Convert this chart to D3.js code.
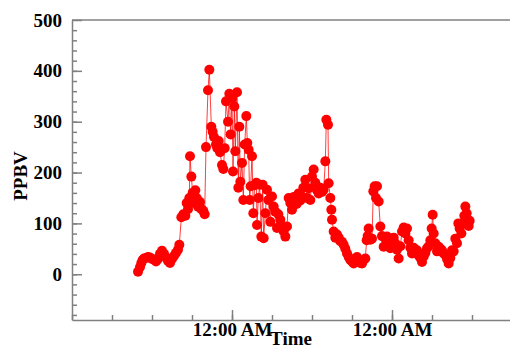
<!DOCTYPE html>
<html>
<head>
<meta charset="utf-8">
<script src="https://cdn.jsdelivr.net/npm/d3@7/dist/d3.min.js"></script>
<style>
    body { margin: 0; background: #fff; }
    text { font-family: "Liberation Serif", "Times New Roman", serif; font-weight: bold; font-size: 19px; fill: #000; }
    .axis path, .axis line { stroke: #808080; stroke-width: 1.5; }
</style>
</head>
<body>
<svg id="chart" width="510" height="350"></svg>
<script>
// hours relative to the first midnight on the x axis
const hours = [
    -14.1, -13.8, -13.6, -13.4, -13.2, -12.9, -12.6, -12.3, -12.0, -11.7, -11.4, -11.1, -10.8, -10.5, -10.2, -9.9,
    -9.6, -9.3, -9.0, -8.7, -8.4, -8.1, -7.9, -7.6, -7.3, -7.0, -6.8, -6.6, -6.4, -6.3, -6.1, -5.9,
    -5.7, -5.5, -5.3, -5.1, -4.8, -4.6, -4.3, -4.1, -3.9, -3.6, -3.4, -3.1, -2.9, -2.7, -2.4, -2.2,
    -2.0, -1.8, -1.5, -1.3, -1.1, -0.9, -0.6, -0.4, -0.2, 0.0, 0.15, 0.35, 0.5, 0.75, 0.95, 1.1,
    1.25, 1.5, 1.7, 1.9, 2.15, 2.3, 2.5, 2.65, 2.8, 3.0, 3.2, 3.4, 3.65, 3.75, 3.95, 4.15,
    4.4, 4.6, 4.75, 5.0, 5.25, 5.45, 5.75, 6.0, 6.25, 6.5, 6.75, 6.95, 7.25, 7.55, 7.75, 8.0,
    8.25, 8.5, 8.75, 9.0, 9.25, 9.5, 9.7, 10.0, 10.25, 10.5, 10.7, 11.0, 11.25, 11.5, 11.75, 12.0,
    12.25, 12.5, 12.75, 13.0, 13.25, 13.5, 13.75, 14.0, 14.15, 14.4, 14.5, 14.75, 14.9, 15.0, 15.25, 15.5,
    15.75, 16.0, 16.25, 16.5, 16.75, 17.0, 17.25, 17.5, 17.75, 18.0, 18.25, 18.5, 18.75, 19.0, 19.25, 19.5,
    19.75, 20.0, 20.2, 20.35, 20.5, 20.75, 21.0, 21.2, 21.4, 21.6, 21.75, 22.0, 22.25, 22.5, 22.75, 23.0,
    23.25, 23.5, 23.75, 24.0, 24.25, 24.5, 24.75, 25.0, 25.25, 25.5, 25.75, 26.0, 26.25, 26.5, 26.75, 27.0,
    27.25, 27.5, 27.75, 28.0, 28.25, 28.5, 28.75, 29.0, 29.25, 29.5, 29.75, 29.95, 30.1, 30.25, 30.5, 30.75,
    31.0, 31.25, 31.5, 31.75, 32.0, 32.25, 32.5, 32.75, 33.0, 33.25, 33.5, 33.75, 33.95, 34.15, 34.4, 34.6,
    34.85, 35.0, 35.2, 35.35, 35.5, 35.65
];
const ppbv = [
    5, 14, 22, 28, 31, 32, 34, 33, 30, 29, 25, 30, 40, 46, 40, 33,
    26, 22, 30, 36, 42, 48, 58, 112, 118, 115, 140, 128, 150, 232, 192, 160,
    140, 165, 150, 133, 142, 128, 125, 118, 250, 362, 402, 290, 280, 270, 255, 248,
    262, 240, 215, 207, 248, 340, 300, 355, 275, 345, 202, 330, 242, 358, 170, 290,
    182, 219, 146, 255, 311, 258, 245, 146, 173, 232, 120, 175, 180, 97, 150, 176,
    74, 176, 71, 120, 166, 146, 103, 153, 133, 123, 91, 118, 107, 95, 84, 74,
    94, 150, 140, 127, 152, 146, 138, 159, 145, 153, 170, 186, 150, 169, 146, 192,
    206, 180, 165, 159, 170, 162, 166, 222, 304, 294, 179, 150, 127, 107, 84, 72,
    78, 72, 65, 64, 58, 50, 41, 34, 28, 25, 21, 28, 34, 26, 22, 21,
    28, 31, 67, 75, 90, 68, 70, 163, 173, 150, 173, 143, 94, 75, 54, 70,
    74, 60, 51, 58, 72, 61, 48, 31, 55, 84, 92, 80, 90, 67, 52, 41,
    52, 45, 47, 37, 32, 24, 35, 42, 51, 55, 67, 90, 117, 80, 61, 45,
    54, 50, 47, 41, 38, 30, 21, 32, 47, 45, 70, 61, 100, 90, 80, 100,
    115, 133, 120, 103, 95, 105
];
const yMajorTicks = [0, 100, 200, 300, 400, 500];
const yMinorTicks = d3.range(-80, 500, 20);
const xTickText = "12:00 AM";
const xTitle = "Time";
const yTitle = "PPBV";

let svg = d3.select("#chart");
let day0 = new Date(2000, 0, 1);
let midnight = d3.timeDay.offset(day0, 1);

let x = d3.scaleTime().domain([day0, d3.timeDay.offset(day0, 3)]).range([72, 552]);
let y = d3.scaleLinear().domain([-90, 500]).range([320, 20]);

let points = hours.map((h, i) => ({t: d3.timeMinute.offset(midnight, Math.round(h * 60)), v: ppbv[i]}));

// top frame line
svg.append("line").attr("class", "axis")
    .attr("x1", x.range()[0]).attr("x2", 510).attr("y1", y(500)).attr("y2", y(500))
    .attr("stroke", "#808080").attr("stroke-width", 1.5);

// y axis: minor ticks then major ticks with labels
svg.append("g").attr("class", "axis").attr("transform", "translate(72,0)")
    .call(d3.axisLeft(y).tickValues(yMinorTicks).tickSize(-5).tickSizeOuter(0).tickFormat(""));
svg.append("g").attr("class", "axis").attr("transform", "translate(72,0)")
    .call(d3.axisLeft(y).tickValues(yMajorTicks).tickSize(-10).tickSizeOuter(0).tickPadding(10))
    .call(g => g.select(".domain").remove());

// x axis: a tick every 6 hours, long ticks at midnight
svg.append("g").attr("class", "axis").attr("transform", "translate(0,320)")
    .call(d3.axisBottom(x).ticks(d3.timeHour.every(6)).tickSize(-5).tickSizeOuter(0).tickFormat(""));
svg.append("g").attr("class", "axis").attr("transform", "translate(0,320)")
    .call(d3.axisBottom(x).tickValues([midnight, d3.timeDay.offset(day0, 2)]).tickSize(-10)
        .tickSizeOuter(0).tickPadding(2).tickFormat(() => xTickText))
    .call(g => g.select(".domain").remove());

svg.selectAll(".axis text").attr("font-size", null).attr("font-family", null);

// series
let line = d3.line().x(d => x(d.t)).y(d => y(d.v));
svg.append("path").datum(points)
    .attr("d", line).attr("fill", "none").attr("stroke", "#ff0000").attr("stroke-width", 1).attr("stroke-opacity", 0.75);
svg.append("g").selectAll("circle").data(points).enter().append("circle")
    .attr("cx", d => x(d.t)).attr("cy", d => y(d.v)).attr("r", 5).attr("fill", "#ff0000");

// titles
svg.append("text").attr("x", 291).attr("y", 345).attr("text-anchor", "middle").text(xTitle);
svg.append("text").attr("transform", "translate(27,176) rotate(-90)").attr("text-anchor", "middle").text(yTitle);
</script>
</body>
</html>
